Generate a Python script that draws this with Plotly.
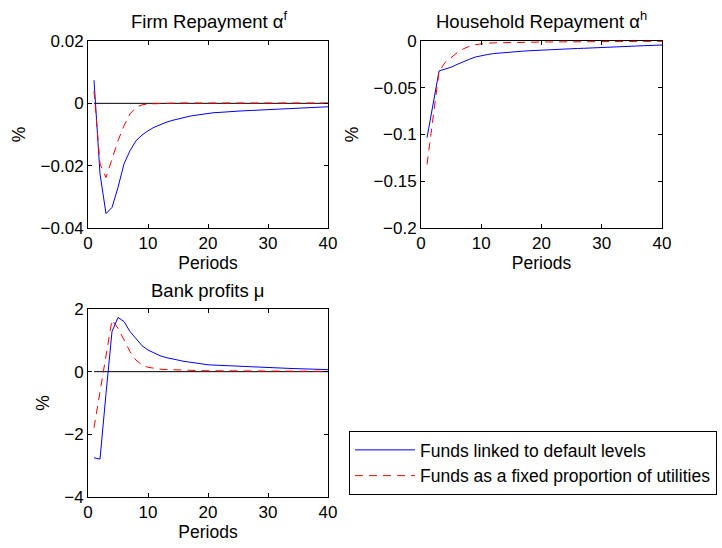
import plotly.graph_objects as go

periods = list(range(1, 41))

# Firm repayment alpha^f
firm_linked = [0.0074, -0.0226, -0.0354, -0.0334, -0.0270, -0.0194, -0.0152, -0.0120, -0.0102, -0.0088,
               -0.0077, -0.0068, -0.0061, -0.0055, -0.0050, -0.0045, -0.0041, -0.0038, -0.0035, -0.0032,
               -0.0030, -0.0029, -0.0027, -0.0026, -0.0025, -0.0024, -0.0023, -0.0022, -0.0021, -0.0021,
               -0.0020, -0.0019, -0.0018, -0.0017, -0.0016, -0.0015, -0.0014, -0.0013, -0.0012, -0.0011]
firm_fixed = [0.0040, -0.0194, -0.0238, -0.0178, -0.0120, -0.0072, -0.0034, -0.0013, -0.0005, -0.0002,
              -0.0001, 0.0000, 0.0000, 0.0001, 0.0001, 0.0001, 0.0001, 0.0001, 0.0001, 0.0001,
              0.0001, 0.0001, 0.0001, 0.0001, 0.0001, 0.0001, 0.0001, 0.0001, 0.0001, 0.0001,
              0.0001, 0.0001, 0.0001, 0.0001, 0.0001, 0.0001, 0.0001, 0.0001, 0.0001, 0.0001]

# Household repayment alpha^h
hh_linked = [-0.1034, -0.0670, -0.0320, -0.0300, -0.0280, -0.0250, -0.0220, -0.0196, -0.0172, -0.0156,
             -0.0145, -0.0135, -0.0128, -0.0123, -0.0118, -0.0113, -0.0108, -0.0104, -0.0100, -0.0096,
             -0.0093, -0.0090, -0.0088, -0.0085, -0.0083, -0.0080, -0.0078, -0.0076, -0.0074, -0.0071,
             -0.0068, -0.0065, -0.0062, -0.0059, -0.0056, -0.0053, -0.0050, -0.0048, -0.0046, -0.0043]
hh_fixed = [-0.1320, -0.0850, -0.0324, -0.0230, -0.0178, -0.0125, -0.0085, -0.0057, -0.0039, -0.0029,
            -0.0024, -0.0020, -0.0018, -0.0016, -0.0015, -0.0014, -0.0013, -0.0012, -0.0012, -0.0011,
            -0.0010, -0.0010, -0.0009, -0.0009, -0.0008, -0.0008, -0.0008, -0.0007, -0.0007, -0.0006,
            -0.0006, -0.0006, -0.0005, -0.0005, -0.0005, -0.0004, -0.0004, -0.0004, -0.0003, -0.0003]

# Bank profits mu
bank_linked = [-2.75, -2.79, -0.70, 1.28, 1.73, 1.60, 1.28, 1.04, 0.83, 0.69,
               0.60, 0.51, 0.45, 0.40, 0.37, 0.33, 0.30, 0.27, 0.24, 0.22,
               0.21, 0.20, 0.19, 0.18, 0.17, 0.16, 0.15, 0.14, 0.135, 0.13,
               0.12, 0.115, 0.11, 0.10, 0.095, 0.09, 0.085, 0.08, 0.07, 0.065]
bank_fixed = [-1.79, -0.62, 0.55, 1.65, 1.39, 1.01, 0.64, 0.37, 0.21, 0.14,
              0.10, 0.08, 0.07, 0.06, 0.05, 0.05, 0.04, 0.04, 0.03, 0.03,
              0.03, 0.03, 0.03, 0.02, 0.02, 0.02, 0.02, 0.02, 0.02, 0.02,
              0.02, 0.02, 0.01, 0.01, 0.01, 0.01, 0.01, 0.01, 0.01, 0.01]

titles = ["Firm Repayment α<sup>f</sup>", "Household Repayment α<sup>h</sup>", "Bank profits μ"]
legend_names = ["Funds linked to default levels", "Funds as a fixed proportion of utilities"]

W, H = 722, 548
FONT = "Liberation Sans, Arial, Helvetica, sans-serif"

fig = go.Figure()

panels = [
    (firm_linked, firm_fixed, "x", "y", True),
    (hh_linked, hh_fixed, "x2", "y2", False),
    (bank_linked, bank_fixed, "x3", "y3", True),
]
for i, (lk, fx, xa, ya, zero) in enumerate(panels):
    if zero:
        fig.add_trace(go.Scatter(x=[periods[0], periods[-1]], y=[0, 0], mode="lines",
                                 line=dict(color="black", width=1), showlegend=False,
                                 xaxis=xa, yaxis=ya, hoverinfo="skip"))
    fig.add_trace(go.Scatter(x=periods, y=lk, mode="lines", name=legend_names[0],
                             line=dict(color="#0000ff", width=1), showlegend=(i == 0),
                             xaxis=xa, yaxis=ya))
    fig.add_trace(go.Scatter(x=periods, y=fx, mode="lines", name=legend_names[1],
                             line=dict(color="#ff0000", width=1, dash="8px,6px"), showlegend=(i == 0),
                             xaxis=xa, yaxis=ya))

def xd(a, b):
    return [a / W, b / W]

def yd(top, bottom):
    return [1 - bottom / H, 1 - top / H]

TICK = 17
axis_common = dict(showline=True, linecolor="black", linewidth=1, mirror="ticks",
                   ticks="inside", ticklen=4, tickcolor="black", showgrid=False,
                   zeroline=False, automargin=False,
                   tickfont=dict(size=TICK, color="black", family=FONT))

xcommon = dict(axis_common, range=[0, 40], tickvals=[0, 10, 20, 30, 40],
               title=dict(text="Periods", font=dict(size=17.5, color="black", family=FONT), standoff=1))
ycommon = dict(axis_common, title=dict(text="%", font=dict(size=17.5, color="black", family=FONT), standoff=10))

fig.update_layout(
    width=W, height=H,
    margin=dict(l=0, r=0, t=0, b=0, autoexpand=False),
    paper_bgcolor="white", plot_bgcolor="white",
    font=dict(family=FONT, color="black"),
    xaxis=dict(xcommon, domain=xd(88, 328), anchor="y"),
    yaxis=dict(ycommon, domain=yd(41, 228), anchor="x", range=[-0.04, 0.02],
               tickvals=[-0.04, -0.02, 0, 0.02]),
    xaxis2=dict(xcommon, domain=xd(421, 662), anchor="y2"),
    yaxis2=dict(ycommon, domain=yd(41, 228), anchor="x2", range=[-0.2, 0],
                tickvals=[-0.2, -0.15, -0.1, -0.05, 0]),
    xaxis3=dict(xcommon, domain=xd(88, 328), anchor="y3"),
    yaxis3=dict(ycommon, domain=yd(309, 497), anchor="x3", range=[-4, 2],
                tickvals=[-4, -2, 0, 2]),
    legend=dict(x=349 / W, y=1 - 431 / H, xref="paper", yref="paper",
                xanchor="left", yanchor="top",
                bordercolor="black", borderwidth=1, bgcolor="white",
                font=dict(size=17.5, color="black", family=FONT),
                itemwidth=60, tracegroupgap=0),
    showlegend=True,
)

title_pos = [(209, 20), (541, 20), (207, 290)]
for t, (cx, cy) in zip(titles, title_pos):
    fig.add_annotation(text=t, x=cx / W, y=1 - cy / H, xref="paper", yref="paper",
                       xanchor="center", yanchor="middle", showarrow=False,
                       font=dict(size=18.5, color="black", family=FONT))

fig.write_html("out.html", config={"displayModeBar": False},
               post_script="document.body.style.margin='0';document.body.style.padding='0';")
